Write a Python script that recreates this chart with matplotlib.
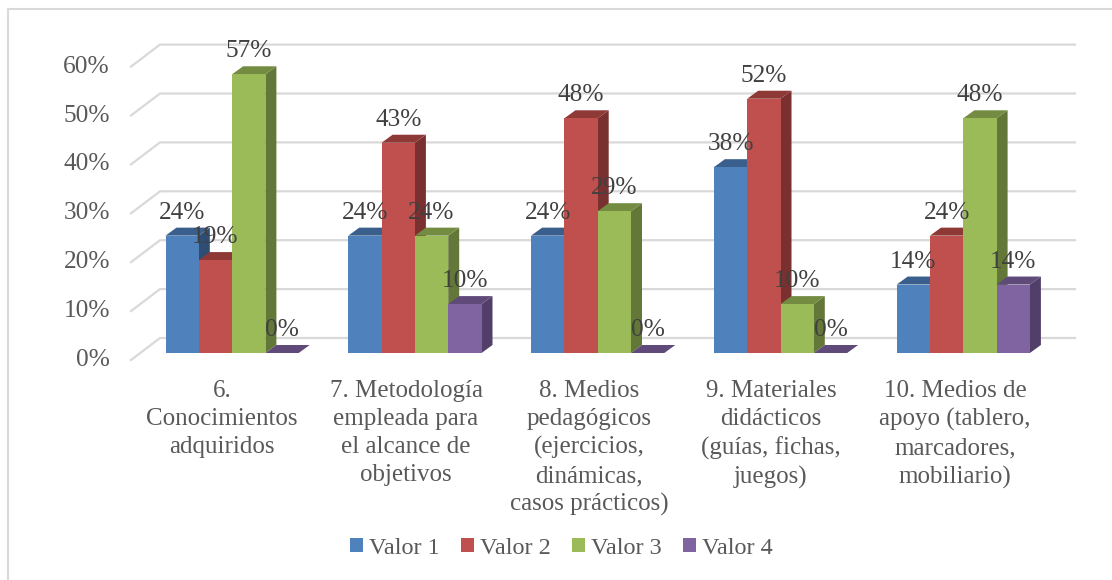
import numpy as np
import matplotlib
matplotlib.use('Agg')
import matplotlib.pyplot as plt
from matplotlib.lines import Line2D
from matplotlib.patches import Patch, Polygon

plt.rcParams['font.family'] = ['Liberation Serif', 'DejaVu Serif']

categories = ['6.\nConocimientos\nadquiridos',
              '7. Metodología\nempleada para\nel alcance de\nobjetivos',
              '8. Medios\npedagógicos\n(ejercicios,\ndinámicas,\ncasos prácticos)',
              '9. Materiales\ndidácticos\n(guías, fichas,\njuegos)',
              '10. Medios de\napoyo (tablero,\nmarcadores,\nmobiliario)']
valor1 = [24, 24, 24, 38, 14]
valor2 = [19, 43, 48, 52, 24]
valor3 = [57, 24, 29, 10, 48]
valor4 = [0, 10, 0, 0, 14]
series_names = ['Valor 1', 'Valor 2', 'Valor 3', 'Valor 4']
y_ticks = [0, 10, 20, 30, 40, 50, 60]

W, H = 1112, 580
PX_X = 182.8   # pixels per category
PX_Y = 4.89    # pixels per percent
X0 = 232.1     # pixel of first category centre
Y0 = 353       # pixel of the zero line, bar front

front = ['#4f81bd', '#c0504d', '#9bbb59', '#8064a2']
top = ['#3b5f8c', '#8f3937', '#748c42', '#5f4a79']
side = ['#2f4d72', '#7a302e', '#637838', '#523f69']

fig = plt.figure(figsize=(W / 100, H / 100), dpi=100)
left = (X0 - 0.5 * PX_X) / W
bottom = 1 - Y0 / H
ax = fig.add_axes([left, bottom, 5 * PX_X / W, 60 * PX_Y / H])
ax.set_xlim(-0.5, 4.5)
ax.set_ylim(0, 60)
ax.axis('off')

# chart frame: only top and left edges are in the crop
fig.add_artist(Line2D([8 / W, 8 / W, 1], [0, 1 - 9 / H, 1 - 9 / H], transform=fig.transFigure,
                      color='#d9d9d9', lw=1.5))

bar_w = 33.3 / PX_X
dx = 11 / PX_X
dy = 8 / PX_Y
wall_x0 = (131 - X0) / PX_X
wall_x1 = (160 - X0) / PX_X
wall_x2 = (1075 - X0) / PX_X
floor = -7 / PX_Y
back = 22 / PX_Y

for t in y_ticks:
    ax.plot([wall_x0, wall_x1, wall_x2], [t + floor, t + floor + back, t + floor + back],
            color='#d9d9d9', lw=1.6, clip_on=False, zorder=1, solid_joinstyle='miter')
    ax.text(wall_x0 - 21 / PX_X, t + floor, f'{t}%', ha='right', va='center',
            fontsize=18.3, color='#595959')

all_series = [valor1, valor2, valor3, valor4]
z = 2
for c in range(len(categories)):
    for s, vals in enumerate(all_series):
        v = vals[c]
        x = c - 2 * bar_w + s * bar_w
        ax.add_patch(Polygon([(x + bar_w, 0), (x + bar_w + dx, dy), (x + bar_w + dx, v + dy), (x + bar_w, v)],
                             facecolor=side[s], edgecolor='none', clip_on=False, zorder=z))
        ax.add_patch(Polygon([(x, v), (x + dx, v + dy), (x + bar_w + dx, v + dy), (x + bar_w, v)],
                             facecolor=top[s], edgecolor='none', clip_on=False, zorder=z))
        if v > 0:
            ax.bar(x, v, bar_w, align='edge', color=front[s], clip_on=False, zorder=z + 0.5)
        z += 1
        ax.annotate(f'{v}%', (x + bar_w / 2, v), xytext=(0, 16.5), textcoords='offset points',
                    ha='center', va='center', fontsize=18.3, color='#404040', zorder=100)

label_x = [222, 406, 589, 771, 955]
for px, name in zip(label_x, categories):
    ax.text((px - X0) / PX_X, -(380 - Y0) / PX_Y, name, ha='center', va='top',
            fontsize=18, color='#595959', linespacing=1.35)

handles = [Patch(facecolor=col, label=n) for col, n in zip(front, series_names)]
fig.legend(handles=handles, ncol=4, loc='center', bbox_to_anchor=(561 / W, 1 - 548 / H), frameon=False,
           fontsize=17.5, labelcolor='#595959', handlelength=0.535, handleheight=0.535,
           handletextpad=0.25, columnspacing=0.87)

fig.savefig('out.png', dpi=100)
